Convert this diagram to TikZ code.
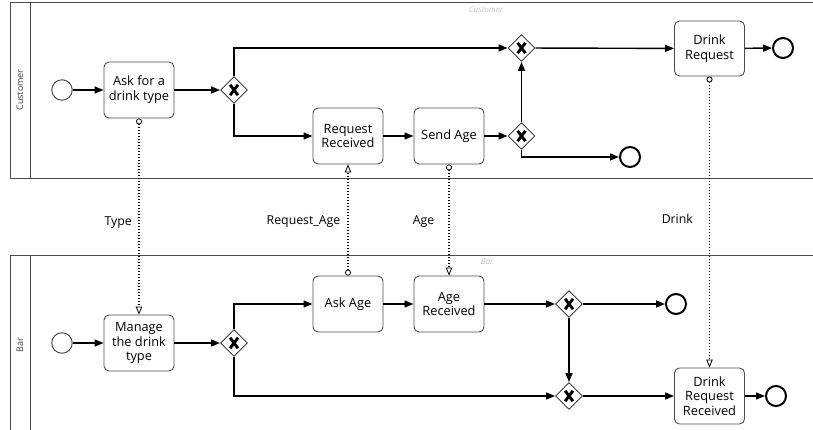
\documentclass[tikz,border=0pt]{standalone}
\usepackage{fontspec}
\setmainfont{Open Sans}
\usetikzlibrary{arrows.meta,shapes.geometric,calc}
\begin{document}
\begin{tikzpicture}[x=1pt,y=-1pt,
  pool/.style={draw=black!70, line width=0.9pt},
  task/.style={draw=black!70, rounded corners=5pt, minimum width=70pt, minimum height=56pt, align=center, font=\fontsize{12.8}{14.8}\selectfont, inner sep=1pt, line width=0.9pt},
  startev/.style={circle, draw=black!75, minimum size=20.5pt, inner sep=0pt, line width=0.9pt},
  endev/.style={circle, draw=black, minimum size=20pt, inner sep=0pt, line width=2pt},
  gw/.style={diamond, draw=black!75, minimum size=27pt, inner sep=0pt, line width=0.9pt, fill=white},
  gwx/.style={line width=2.9pt},
  seq/.style={line width=1.4pt, -{Triangle[length=9pt,width=7pt]}},
  msg/.style={line width=1.3pt, dash pattern=on 1.3pt off 1.7pt, {Circle[open,length=6pt,width=6pt,line width=0.8pt,fill=white]}-{Triangle[open,length=8pt,width=6.5pt,line width=0.8pt,fill=white]}},
  msglbl/.style={font=\fontsize{12.3}{14}\selectfont, inner sep=0pt},
  lanelbl/.style={font=\fontsize{9}{10}\selectfont, text=black!75, rotate=90, inner sep=0pt},
  poolname/.style={font=\itshape\fontsize{8}{9}\selectfont, text=black!25, inner sep=0pt}
]
\useasboundingbox (0,0) rectangle (813,430);
% pools
\draw[pool] (850,2.7) -- (10,2.7) -- (10,178) -- (850,178);
\draw[pool] (30.7,2.7) -- (30.7,178);
\draw[pool] (850,255) -- (10,255) -- (10,450);
\draw[pool] (30.7,255) -- (30.7,450);
\node[lanelbl] (lc) at (20,90) {Customer};
\node[lanelbl] (lb) at (20,345) {Bar};
\node[poolname] (pc) at (486,10) {Customer};
\node[poolname] (pb) at (487,262) {Bar};

% Customer
\node[startev] (s1) at (62,90) {};
\node[task] (t1) at (139,90) {Ask for a\\drink type};
\node[gw] (g1) at (234,90) {};
\node[gw] (g2) at (521.5,48) {};
\node[task] (t2) at (348,136) {Request\\Received};
\node[task] (t3) at (449,136) {Send Age};
\node[gw] (g3) at (521.5,136) {};
\node[endev] (e2) at (630,157) {};
\node[task, minimum height=55pt] (t4) at (709.5,48.5) {Drink\\Request};
\node[endev] (e1) at (783,48) {};

% Bar
\node[startev] (s2) at (62,343) {};
\node[task] (t5) at (139,343) {Manage\\the drink\\type};
\node[gw] (g4) at (234,343) {};
\node[task] (t6) at (348,304) {Ask Age};
\node[task] (t7) at (449,304) {Age\\Received};
\node[gw] (g5) at (569,304) {};
\node[endev] (e3) at (676,304) {};
\node[gw] (g6) at (569,396) {};
\node[task] (t8) at (709.5,396) {Drink\\Request\\Received};
\node[endev] (e4) at (776,396) {};

% gateway markers
\foreach \g in {g1,g2,g3,g4,g5,g6}{
  \draw[gwx] ([shift={(-3.9,-5.2)}]\g.center) -- ([shift={(3.9,5.2)}]\g.center);
  \draw[gwx] ([shift={(3.9,-5.2)}]\g.center) -- ([shift={(-3.9,5.2)}]\g.center);
}

% sequence flows customer
\draw[seq] (s1) -- (t1);
\draw[seq] (t1) -- (g1);
\draw[seq] (g1.north) |- (g2.west);
\draw[seq] (g1.south) |- (t2.west);
\draw[seq] (t2) -- (t3);
\draw[seq] (t3) -- (g3);
\draw[seq] (g3.north) -- (g2.south);
\draw[seq] (g3.south) |- (e2.west);
\draw[seq] (g2) -- (t4);
\draw[seq] (t4) -- (e1);

% sequence flows bar
\draw[seq] (s2) -- (t5);
\draw[seq] (t5) -- (g4);
\draw[seq] (g4.north) |- (t6.west);
\draw[seq] (g4.south) |- (g6.west);
\draw[seq] (t6) -- (t7);
\draw[seq] (t7) -- (g5);
\draw[seq] (g5) -- (e3);
\draw[seq] (g5.south) -- (g6.north);
\draw[seq] (g6) -- (t8);
\draw[seq] (t8) -- (e4);

% message flows
\draw[msg] (t1.south) -- node[msglbl, pos=0.53, anchor=east, xshift=-6.5pt] {Type} (t5.north);
\draw[msg] (t6.north) -- node[msglbl, pos=0.485, anchor=east, xshift=-7pt] {Request\_Age} (t2.south);
\draw[msg] (t3.south) -- node[msglbl, pos=0.515, anchor=east, xshift=-14pt] {Age} (t7.north);
\draw[msg] (t4.south) -- node[msglbl, pos=0.49, anchor=east, xshift=-16pt] {Drink} (t8.north);
\end{tikzpicture}
\end{document}
